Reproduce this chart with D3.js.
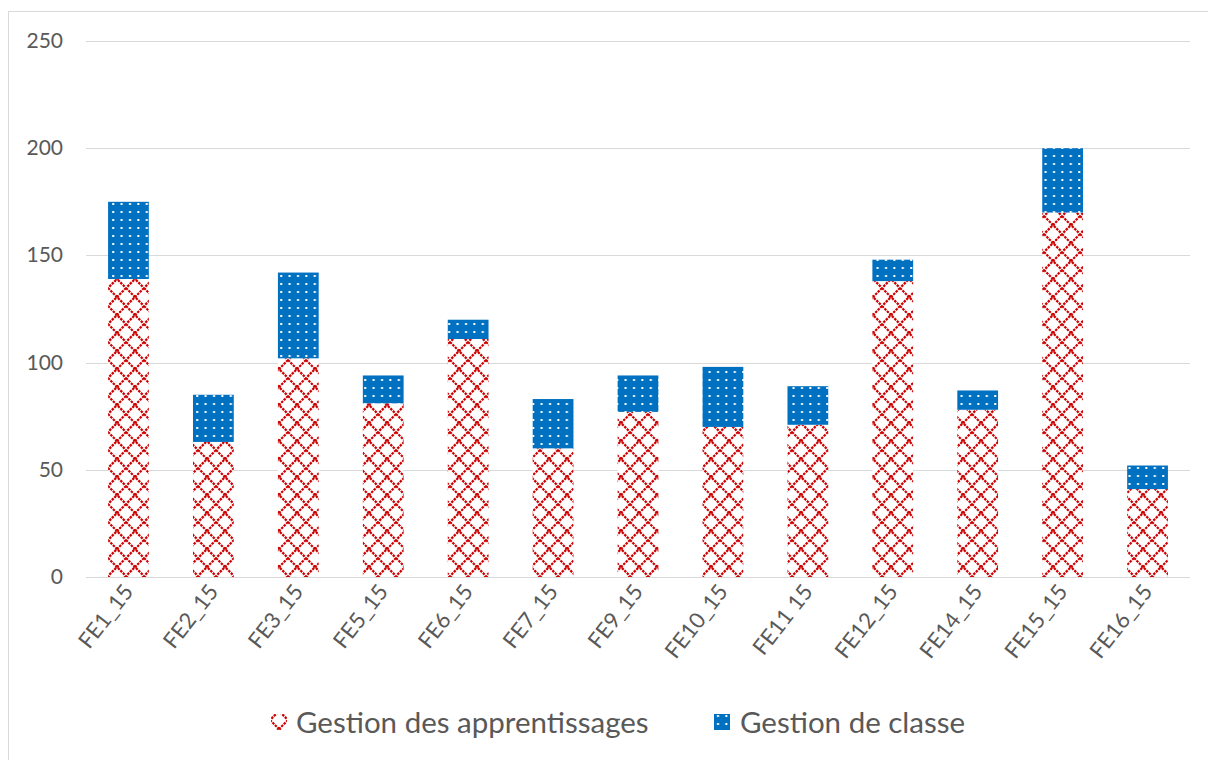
<!DOCTYPE html>
<meta charset="utf-8">
<style>
    body { margin: 0; background: #fff; }
    text {
        font-family: "Lato", "Noto Sans", sans-serif;
        fill: #595959;
    }
    .grid line { stroke: #d9d9d9; shape-rendering: crispEdges; }
    .grid path { display: none; }
</style>
<svg width="1208" height="760"></svg>
<script src="https://cdn.jsdelivr.net/npm/d3@7"></script>
<script>

    // values
    var categories = ["FE1_15", "FE2_15", "FE3_15", "FE5_15", "FE6_15", "FE7_15", "FE9_15",
        "FE10_15", "FE11 15", "FE12_15", "FE14_15", "FE15_15", "FE16_15"];
    var apprentissages = [139, 63, 102, 81, 111, 60, 77, 70, 71, 138, 78, 170, 41];
    var classe = [36, 22, 40, 13, 9, 23, 17, 28, 18, 10, 9, 30, 11];
    var yTicks = [0, 50, 100, 150, 200, 250];
    var seriesNames = ["Gestion des apprentissages", "Gestion de classe"];

    var svg = d3.select("svg"),
        plotLeft = 86, plotRight = 1190, plotTop = 41, plotBottom = 577;

    var defs = svg.append("defs");

    // red diagonal cross hatch
    var hatch = defs.append("pattern")
        .attr("id", "hatch")
        .attr("patternUnits", "userSpaceOnUse")
        .attr("width", 18).attr("height", 18);
    hatch.append("rect").attr("width", 18).attr("height", 18).attr("fill", "#fff");
    hatch.append("path")
        .attr("d", "M0,0L18,18M18,0L0,18")
        .attr("stroke", "#cc0000")
        .attr("stroke-width", 2.2)
        .attr("stroke-dasharray", "2.5,1");

    // blue with white dots
    var dots = defs.append("pattern")
        .attr("id", "dots")
        .attr("patternUnits", "userSpaceOnUse")
        .attr("width", 8.4).attr("height", 8);
    dots.append("rect").attr("width", 8.4).attr("height", 8).attr("fill", "#0070c0");
    dots.append("rect").attr("x", 3).attr("y", 3).attr("width", 2).attr("height", 2).attr("fill", "#fff");

    // chart border
    svg.append("rect")
        .attr("x", 8.5).attr("y", 11.5)
        .attr("width", 1300).attr("height", 800)
        .attr("fill", "none")
        .attr("stroke", "#d9d9d9");

    var x = d3.scaleBand()
        .domain(categories)
        .range([plotLeft, plotRight])
        .paddingInner(0.52)
        .paddingOuter(0.26);

    var y = d3.scaleLinear()
        .domain([0, 250])
        .range([plotBottom, plotTop]);

    svg.append("g")
        .attr("class", "grid")
        .attr("transform", "translate(" + plotLeft + ",0)")
        .call(d3.axisRight(y).tickValues(yTicks).tickSize(plotRight - plotLeft).tickFormat(""));

    yTicks.forEach(function(t) {
        svg.append("text")
            .attr("x", 63)
            .attr("y", y(t) + 7)
            .attr("text-anchor", "end")
            .style("font-size", "21px")
            .text(t);
    });

    var rows = categories.map(function(c, i) {
        return { cat: c, a: apprentissages[i], b: classe[i] };
    });

    var stack = d3.stack().keys(["a", "b"])(rows);
    var fills = ["url(#hatch)", "url(#dots)"];

    svg.selectAll("g.series")
        .data(stack)
        .enter().append("g")
        .attr("class", "series")
        .attr("fill", function(d, i) { return fills[i]; })
        .selectAll("rect")
        .data(function(d) { return d; })
        .enter().append("rect")
        .attr("x", function(d) { return x(d.data.cat); })
        .attr("width", x.bandwidth())
        .attr("y", function(d) { return y(d[1]); })
        .attr("height", function(d) { return y(d[0]) - y(d[1]); });

    // category labels, rotated
    categories.forEach(function(c) {
        var cx = x(c) + x.bandwidth() / 2 + 6;
        svg.append("text")
            .attr("text-anchor", "end")
            .attr("transform", "translate(" + cx + ",592)rotate(-52)")
            .style("font-size", "22px")
            .text(c);
    });

    // legend
    var legend = [
        { name: seriesNames[0], fill: "url(#hatch)", sx: 271, tx: 296 },
        { name: seriesNames[1], fill: "url(#dots)", sx: 714, tx: 740 }
    ];
    legend.forEach(function(l) {
        svg.append("rect")
            .attr("x", l.sx).attr("y", 714)
            .attr("width", 16).attr("height", 16)
            .attr("fill", l.fill);
        svg.append("text")
            .attr("x", l.tx).attr("y", 733)
            .style("font-size", "29.5px")
            .text(l.name);
    });

</script>
